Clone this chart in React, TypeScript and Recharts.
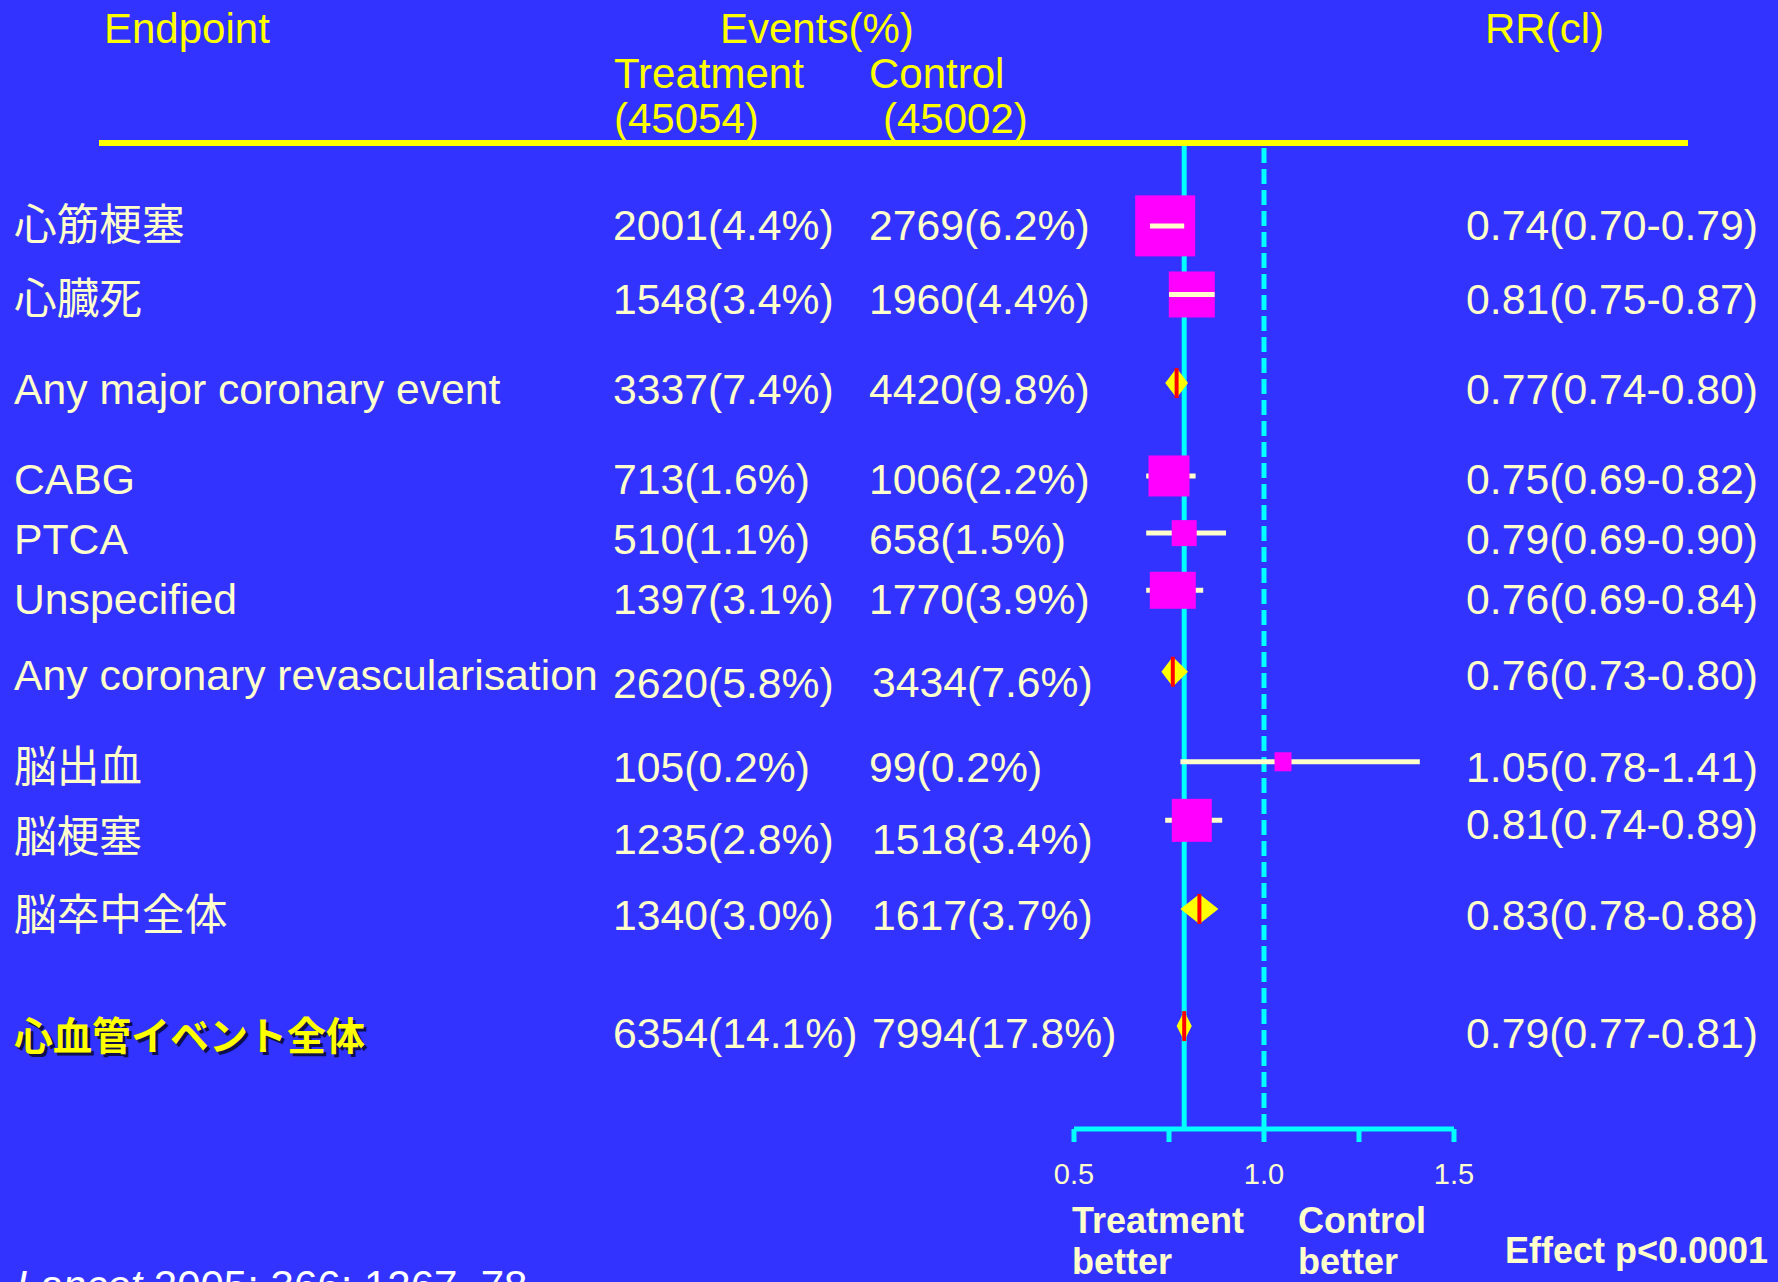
import React from 'react';
import { ComposedChart, Scatter, XAxis, YAxis, ReferenceLine, ErrorBar } from 'recharts';

// ---------------- data ----------------
const endpoints = [
  '心筋梗塞',
  '心臓死',
  'Any major coronary event',
  'CABG',
  'PTCA',
  'Unspecified',
  'Any coronary revascularisation',
  '脳出血',
  '脳梗塞',
  '脳卒中全体',
  '心血管イベント全体',
];
const treatmentEvents = [
  '2001(4.4%)', '1548(3.4%)', '3337(7.4%)', '713(1.6%)', '510(1.1%)', '1397(3.1%)',
  '2620(5.8%)', '105(0.2%)', '1235(2.8%)', '1340(3.0%)', '6354(14.1%)',
];
const controlEvents = [
  '2769(6.2%)', '1960(4.4%)', '4420(9.8%)', '1006(2.2%)', '658(1.5%)', '1770(3.9%)',
  '3434(7.6%)', '99(0.2%)', '1518(3.4%)', '1617(3.7%)', '7994(17.8%)',
];
const relativeRisk = [0.74, 0.81, 0.77, 0.75, 0.79, 0.76, 0.76, 1.05, 0.81, 0.83, 0.79];
const ciLower = [0.70, 0.75, 0.74, 0.69, 0.69, 0.69, 0.73, 0.78, 0.74, 0.78, 0.77];
const ciUpper = [0.79, 0.87, 0.80, 0.82, 0.90, 0.84, 0.80, 1.41, 0.89, 0.88, 0.81];
const rowKind = ['box', 'box', 'summary', 'box', 'box', 'box', 'summary', 'box', 'box', 'summary', 'total'];
const treatmentN = 45054;
const controlN = 45002;
const xTicks = [0.5, 0.75, 1.0, 1.25, 1.5];
const xTickLabels = ['0.5', '', '1.0', '', '1.5'];
const pValueText = 'Effect p<0.0001';

// ---------------- layout & style ----------------
const W = 1778;
const H = 1282;
const BG = '#3333FF';
const YELLOW = '#FFFF00';
const CREAM = '#FFFFCC';
const CYAN = '#00FFFF';
const MAGENTA = '#FF00FF';
const RED = '#FF0000';
const FONT = "'Liberation Sans', Arial, 'Noto Sans CJK JP', sans-serif";
const ROW_FS = 42.7;
const rowSlot = [0, 2.4, 5.5, 8.75, 10.75, 12.75, 15.6, 18.75, 20.8, 23.9, 28];
const boxPx: (number[] | null)[] = [[60, 61], [46, 46], null, [41, 41], [25, 26], [46, 37], null, [17, 19], [40, 43], null, null];
const ciOnTop = [true, true, false, false, false, false, false, false, false, false, false];
// vertical nudges for [label, treatment, control, rr] text
const textNudge = [
  [-1, -1, -1, -1], [5, 5, 5, 5], [6, 6, 6, 6], [3, 3, 3, 3], [6, 6, 6, 6], [9, 9, 9, 9],
  [3, 11, 10, 3], [5, 5, 5, 5], [17, 19, 19, 4], [6, 6, 6, 6], [9, 7, 7, 7],
];
const ctrlDx = [0, 0, 0, 0, 0, 0, 3, 0, 3, 3, 3];
const DIAMOND_HALF_H = 15;

const overallRR = relativeRisk[rowKind.indexOf('total')];
const rrText = (i: number) =>
  `${relativeRisk[i].toFixed(2)}(${ciLower[i].toFixed(2)}-${ciUpper[i].toFixed(2)})`;

const boxData = endpoints
  .map((_, i) => ({
    x: relativeRisk[i],
    y: rowSlot[i],
    err: [relativeRisk[i] - ciLower[i], ciUpper[i] - relativeRisk[i]],
    box: boxPx[i],
    kind: rowKind[i],
  }))
  .filter((d) => d.kind === 'box');

// CI segments drawn above their box (CI narrower than the box)
const topCiPts = endpoints.flatMap((_, i) =>
  ciOnTop[i]
    ? [
        { x: ciLower[i], y: rowSlot[i] },
        { x: ciUpper[i], y: rowSlot[i] },
      ]
    : []
);

const diamondPts = endpoints.flatMap((_, i) =>
  rowKind[i] === 'box'
    ? []
    : [
        { x: ciLower[i], y: rowSlot[i] },
        { x: relativeRisk[i], y: rowSlot[i] },
        { x: ciUpper[i], y: rowSlot[i] },
      ]
);

const BoxShape = (props: any) => {
  const { cx, cy, payload } = props;
  if (cx == null || cy == null || !payload || !payload.box) return <g />;
  const [w, h] = payload.box;
  return <rect x={cx - w / 2} y={cy - h / 2} width={w} height={h} fill={MAGENTA} />;
};

const EmptyShape = () => <g />;

const SegmentLayer = (props: any) => {
  const pts = props.points || [];
  const out: React.ReactNode[] = [];
  for (let i = 0; i + 1 < pts.length; i += 2) {
    out.push(
      <line key={i} x1={pts[i].x} x2={pts[i + 1].x} y1={pts[i].y} y2={pts[i + 1].y} stroke={CREAM} strokeWidth={5} />
    );
  }
  return <g>{out}</g>;
};

const DiamondLayer = (props: any) => {
  const pts = props.points || [];
  const out: React.ReactNode[] = [];
  for (let i = 0; i + 2 < pts.length; i += 3) {
    const L = pts[i];
    const C = pts[i + 1];
    const R = pts[i + 2];
    const h = DIAMOND_HALF_H;
    out.push(
      <g key={i}>
        <polygon
          points={`${L.x},${C.y} ${C.x},${C.y - h} ${R.x},${C.y} ${C.x},${C.y + h}`}
          fill={YELLOW}
        />
        <line x1={C.x} x2={C.x} y1={C.y - h} y2={C.y + h} stroke={RED} strokeWidth={4} />
      </g>
    );
  }
  return <g>{out}</g>;
};

const XTick = (props: any) => {
  const { x, y, payload } = props;
  const idx = xTicks.findIndex((t) => Math.abs(t - payload.value) < 1e-9);
  const label = idx >= 0 ? xTickLabels[idx] : '';
  if (!label) return <g />;
  return (
    <text x={x} y={y + 42} textAnchor="middle" fill={CREAM} fontSize={29} fontFamily={FONT}>
      {label}
    </text>
  );
};

const RowTick = (props: any) => {
  const { y, payload } = props;
  const i = rowSlot.findIndex((s) => Math.abs(s - payload.value) < 1e-6);
  if (i < 0) return <g />;
  const n = textNudge[i];
  const base = y + 15;
  const isTotal = rowKind[i] === 'total';
  const common = { fontFamily: FONT, fontSize: ROW_FS, fill: CREAM };
  return (
    <g>
      {isTotal ? (
        <g>
          <text x={17} y={base + n[0] + 3} fontFamily={FONT} fontSize={39} fontWeight="bold" fill="#10104a">
            {endpoints[i]}
          </text>
          <text x={14} y={base + n[0]} fontFamily={FONT} fontSize={39} fontWeight="bold" fill={YELLOW}>
            {endpoints[i]}
          </text>
        </g>
      ) : (
        <text x={14} y={base + n[0]} {...common}>
          {endpoints[i]}
        </text>
      )}
      <text x={613} y={base + n[1]} {...common}>
        {treatmentEvents[i]}
      </text>
      <text x={869 + ctrlDx[i]} y={base + n[2]} {...common}>
        {controlEvents[i]}
      </text>
      <text x={1758} y={base + n[3]} textAnchor="end" {...common}>
        {rrText(i)}
      </text>
    </g>
  );
};

const Overlay = () => {
  const hdr = { fontFamily: FONT, fontSize: 42, fill: YELLOW };
  const foot = { fontFamily: FONT, fontSize: 36, fontWeight: 'bold' as const, fill: CREAM };
  return (
    <svg
      width={W}
      height={H}
      style={{ position: 'absolute', left: 0, top: 0, pointerEvents: 'none' }}
    >
      <text x={104} y={43} {...hdr}>Endpoint</text>
      <text x={720} y={43} {...hdr}>Events(%)</text>
      <text x={1485} y={43} {...hdr}>RR(cl)</text>
      <text x={614} y={88} {...hdr}>Treatment</text>
      <text x={869} y={88} {...hdr}>Control</text>
      <text x={614} y={133} {...hdr}>{`(${treatmentN})`}</text>
      <text x={883} y={133} {...hdr}>{`(${controlN})`}</text>
      <rect x={99} y={140} width={1589} height={6} fill={YELLOW} />

      <text x={1072} y={1233} {...foot}>Treatment</text>
      <text x={1072} y={1274} {...foot}>better</text>
      <text x={1298} y={1233} {...foot}>Control</text>
      <text x={1298} y={1274} {...foot}>better</text>
      <text x={1505} y={1263} {...foot}>{pValueText}</text>

      <text x={16} y={1300} fontFamily={FONT} fontSize={42} fill="#FFFFFF">
        <tspan fontStyle="italic">Lancet</tspan> 2005; 366: 1267–78
      </text>
    </svg>
  );
};

export default function App() {
  return (
    <div
      style={{
        position: 'fixed',
        left: 0,
        top: 0,
        width: W,
        height: H,
        background: BG,
        overflow: 'hidden',
      }}
    >
      <ComposedChart
        width={W}
        height={H}
        margin={{ top: 143, right: 324, bottom: 93, left: 1073 }}
        style={{ position: 'absolute', left: 0, top: 0 }}
      >
        <XAxis
          type="number"
          dataKey="x"
          domain={[0.5, 1.5]}
          allowDataOverflow
          ticks={xTicks}
          interval={0}
          axisLine={{ stroke: CYAN, strokeWidth: 5 }}
          tickLine={{ stroke: CYAN, strokeWidth: 5 }}
          tickSize={13}
          tickMargin={0}
          height={60}
          tick={(p: any) => <XTick {...p} />}
        />
        <YAxis
          type="number"
          dataKey="y"
          domain={[-2.9, 31.6]}
          reversed
          allowDataOverflow
          ticks={rowSlot}
          interval={0}
          width={1}
          axisLine={false}
          tickLine={false}
          tick={(p: any) => <RowTick {...p} />}
        />
        <ReferenceLine x={overallRR} stroke={CYAN} strokeWidth={5} />
        <ReferenceLine x={1} stroke={CYAN} strokeWidth={5} strokeDasharray="15 6" />
        <Scatter data={boxData} shape={BoxShape} isAnimationActive={false}>
          <ErrorBar dataKey="err" direction="x" width={0} stroke={CREAM} strokeWidth={5} isAnimationActive={false} />
        </Scatter>
        <Scatter
          data={topCiPts}
          shape={EmptyShape}
          line={SegmentLayer as any}
          lineType="joint"
          isAnimationActive={false}
        />
        <Scatter
          data={diamondPts}
          shape={EmptyShape}
          line={DiamondLayer as any}
          lineType="joint"
          isAnimationActive={false}
        />
      </ComposedChart>
      <Overlay />
    </div>
  );
}
